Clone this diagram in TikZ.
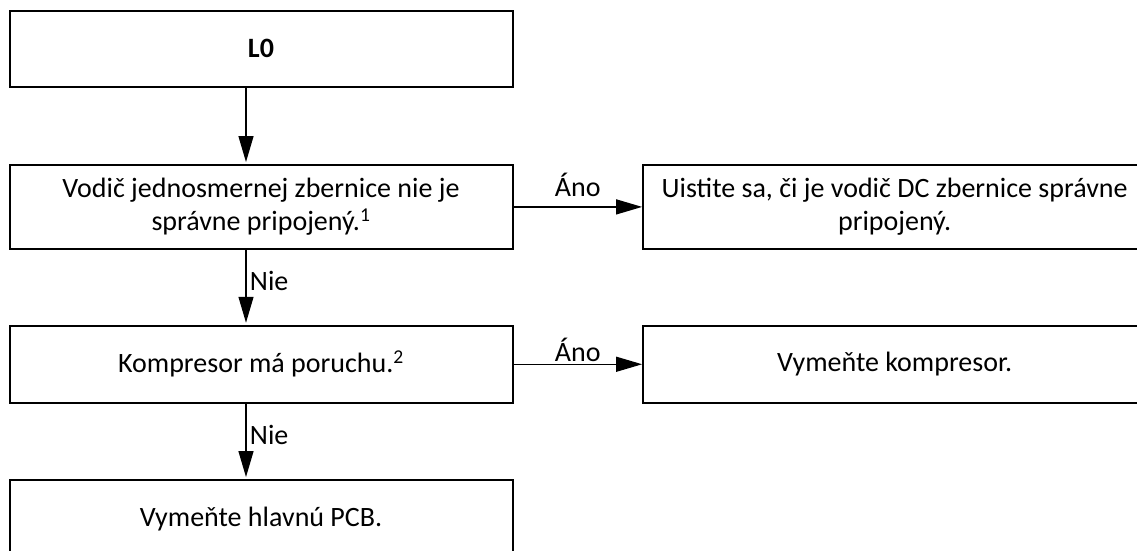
\documentclass[tikz,border=0pt]{standalone}
\usepackage{fontspec}
\setmainfont{Carlito}
\usetikzlibrary{arrows.meta, positioning}
\tikzset{
  block/.style={
    rectangle,
    draw,
    line width=2pt,
    align=center,
    minimum width=503pt,
    minimum height=77pt,
    inner sep=6pt,
    font=\fontsize{28}{33}\selectfont
  },
  lbl/.style={font=\fontsize{28}{33}\selectfont},
  arrow/.style={-{Triangle[length=26pt, width=15pt]}, line width=1.3pt},
  downarrow/.style={arrow, shorten >=2pt}
}
\begin{document}
\begin{tikzpicture}[x=1pt, y=1pt, node distance=75pt and 128.6pt]
  \useasboundingbox (0,0) rectangle (1137,-550);
  \clip (0,0) rectangle (1137,-550);

  \node[block, minimum height=75.7pt] (start) at (261,-48.9) {\textbf{L0}};

  \node[block, below=76.3pt of start, minimum height=83.7pt] (busq)
  {Vodič jednosmernej zbernice nie je\\
   správne pripojený.\textsuperscript{1}};

  \node[block, right=of busq, minimum height=83.7pt] (busfix)
  {Uistite sa, či je vodič DC zbernice správne\\
   pripojený.};

  \node[block, below=of busq] (compq) {Kompresor má poruchu.\textsuperscript{2}};

  \node[block, right=of compq] (compfix) {Vymeňte kompresor.};

  \node[block, below=75.3pt of compq] (pcb) {Vymeňte hlavnú PCB.};

  \draw[downarrow] ([xshift=-15pt]start.south) -- ([xshift=-15pt]busq.north);
  \draw[arrow] (busq) -- node[lbl, above, inner sep=10pt]{Áno} (busfix);
  \draw[downarrow] ([xshift=-15pt]busq.south) -- node[lbl, right, pos=0.42]{Nie} ([xshift=-15pt]compq.north);
  \draw[arrow] (compq) -- node[lbl, above, inner sep=2pt]{Áno} (compfix);
  \draw[downarrow] ([xshift=-15pt]compq.south) -- node[lbl, right, pos=0.41]{Nie} ([xshift=-15pt]pcb.north);
\end{tikzpicture}
\end{document}
